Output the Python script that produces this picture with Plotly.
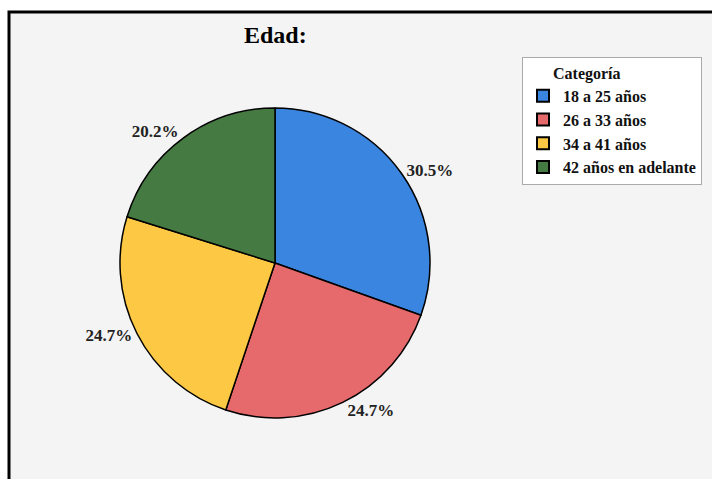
import plotly.graph_objects as go

categories = ["18 a 25 años", "26 a 33 años", "34 a 41 años", "42 años en adelante"]
values = [30.5, 24.7, 24.7, 20.2]
pct_labels = ["30.5%", "24.7%", "24.7%", "20.2%"]
colors = ["#3a85df", "#e66a6b", "#fdc843", "#467a43"]

W, H = 712, 479
FONT = "Liberation Serif"

cx, cy, r = 275, 263, 155

fig = go.Figure()
fig.add_trace(go.Pie(
    labels=categories,
    values=values,
    text=pct_labels,
    textinfo="text",
    textposition="outside",
    sort=False,
    direction="clockwise",
    rotation=0,
    marker=dict(colors=colors, line=dict(color="black", width=1.5)),
    textfont=dict(family=FONT, size=17, color="#222222", weight="bold"),
    domain=dict(x=[(cx - r) / W, (cx + r) / W], y=[(H - cy - r) / H, (H - cy + r) / H]),
    hoverinfo="label+text",
))

fig.update_layout(
    width=W, height=H,
    margin=dict(l=0, r=0, t=0, b=0),
    paper_bgcolor="white",
    plot_bgcolor="white",
    showlegend=True,
    legend=dict(
        x=522 / W, y=1 - 57 / H, xanchor="left", yanchor="top",
        bgcolor="white", bordercolor="#aaaaaa", borderwidth=1,
        font=dict(family=FONT, size=16, color="#111111", weight="bold"),
        title=dict(text="\u00a0\u00a0\u00a0\u00a0\u00a0\u00a0\u00a0Categoría",
                   font=dict(family=FONT, size=16, color="#111111", weight="bold")),
        tracegroupgap=0, itemsizing="constant",
    ),
    shapes=[dict(
        type="rect", xref="paper", yref="paper",
        x0=9 / W, x1=1.05, y0=-0.05, y1=1 - 12 / H,
        fillcolor="#f4f4f4", line=dict(color="black", width=3), layer="below",
    )],
    annotations=[dict(
        text="Edad:", x=cx / W, y=1 - 35 / H, xref="paper", yref="paper",
        xanchor="center", yanchor="middle", showarrow=False,
        font=dict(family=FONT, size=24, color="black", weight="bold"),
    )],
)

fig.write_html("out.html")
